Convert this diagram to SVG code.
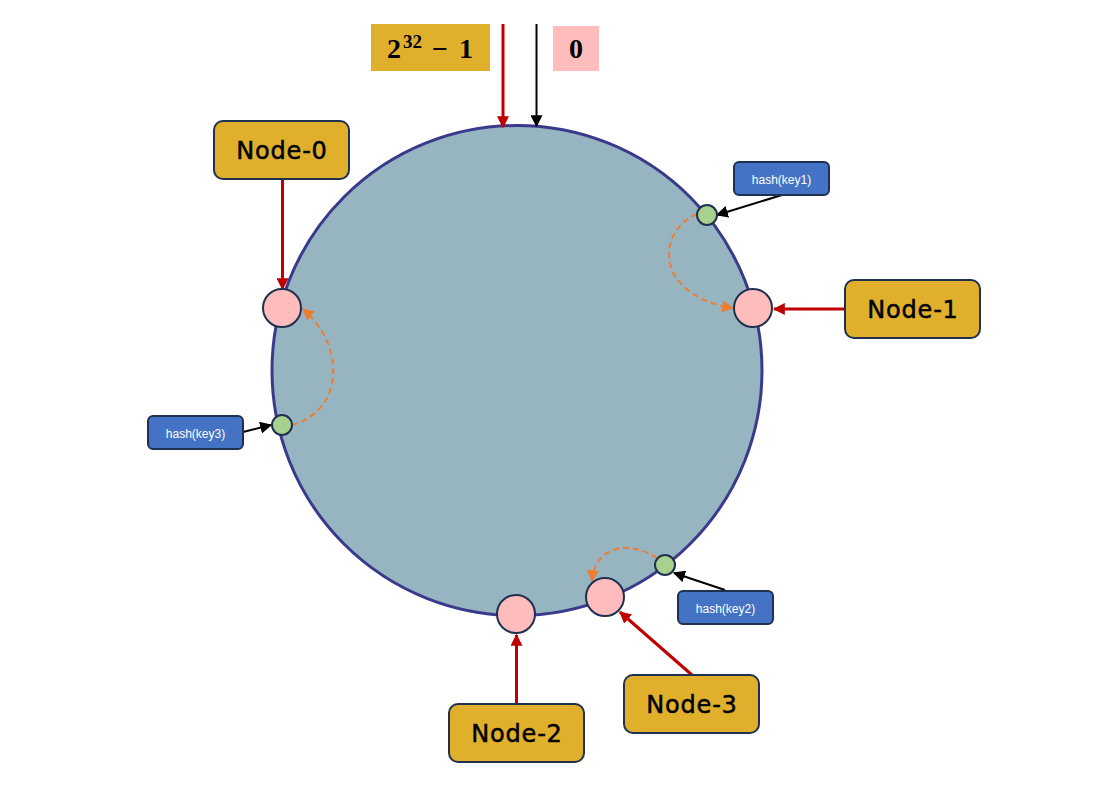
<svg xmlns="http://www.w3.org/2000/svg" width="1095" height="805" viewBox="0 0 1095 805">
  <style>
    .node-box { fill: #e0b02c; stroke: #1f3050; stroke-width: 2; }
    .node-label { font-family: "DejaVu Sans", "Liberation Sans", sans-serif; font-size: 24px; fill: #000; stroke: #000; stroke-width: 0.5; text-anchor: middle; letter-spacing: 0.8px; }
    .slot { fill: #ffbcbc; stroke: #1f3050; stroke-width: 2; }
    .key-dot { fill: #a9d18e; stroke: #1f3050; stroke-width: 2; }
    .key-box { fill: #4472c4; stroke: #1f3050; stroke-width: 2; }
    .key-label { font-family: "Liberation Sans", Arial, sans-serif; font-size: 12px; fill: #fff; text-anchor: middle; }
    .red { stroke: #c00000; stroke-width: 3; fill: none; }
    .black { stroke: #000; stroke-width: 2; fill: none; }
    .dash { stroke: #ed7d31; stroke-width: 2; fill: none; stroke-dasharray: 6 4; }
    .math { font-family: "Liberation Serif", "Times New Roman", serif; font-weight: bold; fill: #000; }
  </style>
  <defs>
    <marker id="arrRed" viewBox="0 0 10 10" refX="9" refY="5" markerWidth="4" markerHeight="4" orient="auto" markerUnits="strokeWidth">
      <path d="M0,0 L10,5 L0,10 Z" fill="#c00000"/>
    </marker>
    <marker id="arrBlack" viewBox="0 0 10 10" refX="9" refY="5" markerWidth="6" markerHeight="6" orient="auto" markerUnits="strokeWidth">
      <path d="M0,0 L10,5 L0,10 Z" fill="#000"/>
    </marker>
    <marker id="arrOrange" viewBox="0 0 10 10" refX="9" refY="5" markerWidth="6" markerHeight="6" orient="auto" markerUnits="strokeWidth">
      <path d="M0,0 L10,5 L0,10 Z" fill="#ed7d31"/>
    </marker>
  </defs>

  <!-- hash ring -->
  <circle id="ring" cx="517" cy="370.5" r="245" fill="#97b5c0" stroke="#3a3a8c" stroke-width="3"/>

  <!-- range labels -->
  <g id="label-max">
    <rect x="371" y="24" width="119" height="47" fill="#e0b02c"/>
    <text class="math" y="58" font-size="28"><tspan x="387">2</tspan><tspan x="403" y="48" font-size="19">32</tspan><tspan x="432" y="58">−</tspan><tspan x="459">1</tspan></text>
  </g>
  <g id="label-zero">
    <rect x="553" y="26" width="46" height="45" fill="#ffbcbc"/>
    <text class="math" x="576" y="58" font-size="28" text-anchor="middle">0</text>
  </g>

  <!-- connectors -->
  <g id="connectors">
    <line class="red" x1="503" y1="24" x2="503" y2="127" marker-end="url(#arrRed)"/>
    <line class="black" x1="536.5" y1="24" x2="536.5" y2="126" marker-end="url(#arrBlack)"/>

    <line class="red" x1="282.5" y1="179" x2="282.5" y2="289" marker-end="url(#arrRed)"/>
    <line class="red" x1="845" y1="309" x2="774" y2="309" marker-end="url(#arrRed)"/>
    <line class="red" x1="516.5" y1="704" x2="516.5" y2="635" marker-end="url(#arrRed)"/>
    <line class="red" x1="692" y1="675" x2="620" y2="612" marker-end="url(#arrRed)"/>

    <line class="black" x1="782" y1="195" x2="717" y2="215" marker-end="url(#arrBlack)"/>
    <line class="black" x1="243" y1="432" x2="271" y2="425" marker-end="url(#arrBlack)"/>
    <line class="black" x1="725" y1="590" x2="674" y2="573" marker-end="url(#arrBlack)"/>

    <path class="dash" d="M697,214 C655,232 655,296 733,308" marker-end="url(#arrOrange)"/>
    <path class="dash" d="M292,425 C345,410 345,345 303,309" marker-end="url(#arrOrange)"/>
    <path class="dash" d="M657,558 C630,540 595,545 592,581" marker-end="url(#arrOrange)"/>
  </g>

  <!-- server nodes -->
  <g id="node-0">
    <rect class="node-box" x="214" y="121" width="135" height="58" rx="9"/>
    <text class="node-label" x="282" y="159">Node-0</text>
    <circle class="slot" cx="282" cy="308" r="19"/>
  </g>
  <g id="node-1">
    <rect class="node-box" x="845" y="280" width="135" height="58" rx="9"/>
    <text class="node-label" x="913" y="318">Node-1</text>
    <circle class="slot" cx="753" cy="308" r="19"/>
  </g>
  <g id="node-2">
    <rect class="node-box" x="449" y="704" width="135" height="58" rx="9"/>
    <text class="node-label" x="517" y="742">Node-2</text>
    <circle class="slot" cx="516" cy="614" r="19"/>
  </g>
  <g id="node-3">
    <rect class="node-box" x="624" y="675" width="135" height="58" rx="9"/>
    <text class="node-label" x="692" y="713">Node-3</text>
    <circle class="slot" cx="605" cy="597" r="19"/>
  </g>

  <!-- keys -->
  <g id="key-1">
    <rect class="key-box" x="734" y="162" width="95" height="33" rx="5"/>
    <text class="key-label" x="781.5" y="184">hash(key1)</text>
    <circle class="key-dot" cx="707" cy="215" r="10"/>
  </g>
  <g id="key-3">
    <rect class="key-box" x="148" y="416" width="95" height="33" rx="5"/>
    <text class="key-label" x="195.5" y="438">hash(key3)</text>
    <circle class="key-dot" cx="282" cy="425" r="10"/>
  </g>
  <g id="key-2">
    <rect class="key-box" x="678" y="591" width="95" height="33" rx="5"/>
    <text class="key-label" x="725.5" y="613">hash(key2)</text>
    <circle class="key-dot" cx="665" cy="565" r="10"/>
  </g>
</svg>
